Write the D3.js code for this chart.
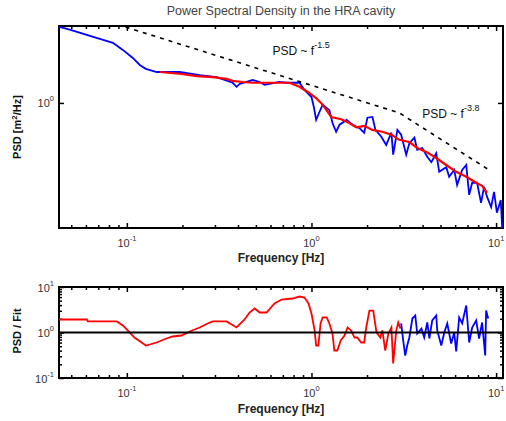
<!DOCTYPE html>
<html>
<head>
<meta charset="utf-8">
<script src="https://cdn.jsdelivr.net/npm/d3@7"></script>
<style>
  body { margin: 0; background: #fff; }
  svg { display: block; font-family: "Liberation Sans", Arial, sans-serif; }
</style>
</head>
<body>
<div id="chart"></div>
<script>
// measured spectrum, frequency in Hz, PSD in m^2/Hz
const rawFreq = [0.0429, 0.0474, 0.0537, 0.0631, 0.0714, 0.084, 0.0951, 0.1077, 0.1175, 0.1267, 0.1452, 0.1932,
  0.2481, 0.3063, 0.374, 0.393, 0.408, 0.48, 0.524, 0.557, 0.671, 0.733, 0.861, 0.916, 1.0, 1.03, 1.06, 1.10,
  1.15, 1.25, 1.30, 1.36, 1.42, 1.55, 1.67, 1.82, 1.93, 2.01, 2.14, 2.22, 2.39, 2.54, 2.71, 2.77, 2.92, 3.06,
  3.26, 3.39, 3.61, 3.74, 3.98, 4.24, 4.46, 4.74, 4.92, 5.37, 5.57, 5.93, 6.15, 6.55, 6.89, 7.15, 7.42, 7.89,
  8.29, 8.61, 8.94, 9.40, 9.75, 10.1, 10.6, 10.8];
const rawPsd = [3.86, 3.71, 3.52, 3.28, 3.11, 2.90, 2.56, 2.22, 1.96, 1.83, 1.73, 1.73,
  1.64, 1.58, 1.43, 1.33, 1.40, 1.50, 1.45, 1.38, 1.45, 1.43, 1.43, 1.26, 1.11, 0.93, 0.74, 0.84,
  0.97, 0.88, 0.70, 0.60, 0.68, 0.74, 0.68, 0.64, 0.59, 0.77, 0.78, 0.62, 0.55, 0.475, 0.59, 0.40, 0.62, 0.57,
  0.40, 0.49, 0.54, 0.435, 0.45, 0.385, 0.35, 0.41, 0.295, 0.32, 0.27, 0.305, 0.234, 0.305, 0.333, 0.196, 0.243, 0.243,
  0.170, 0.226, 0.189, 0.158, 0.207, 0.143, 0.179, 0.107];

// fitted spectrum
const fitFreq = [0.151, 0.198, 0.239, 0.292, 0.347, 0.374, 0.424, 0.48, 0.593, 0.76, 0.861, 0.951, 1.06, 1.15,
  1.28, 1.45, 1.60, 1.75, 1.93, 2.14, 2.42, 2.71, 2.99, 3.39, 3.74, 4.19, 4.74, 5.37, 6.08, 6.89, 7.80, 8.40, 8.94];
const fitPsd = [1.73, 1.67, 1.61, 1.58, 1.53, 1.48, 1.45, 1.43, 1.43, 1.43, 1.33, 1.22, 1.09, 0.97,
  0.78, 0.75, 0.70, 0.65, 0.666, 0.62, 0.60, 0.57, 0.52, 0.50, 0.45, 0.42, 0.377, 0.333, 0.295, 0.27, 0.243, 0.23, 0.203];

// reference power laws (dashed)
const slopeFreq = [0.0714, 2.99, 9.16];
const slopePsd = [4.43, 0.838, 0.305];
const slopeLabels = [
  { text: "PSD ~ f", exp: "-1.5", f: 0.615, p: 2.34 },
  { text: "PSD ~ f", exp: "-3.8", f: 3.98, p: 0.767 }
];

// PSD / fit ratio
const ratioFitFreq = [0.0429, 0.0608, 0.0615, 0.0883, 0.0951, 0.101, 0.110, 0.127, 0.145, 0.164, 0.177, 0.198,
  0.219, 0.248, 0.274, 0.292, 0.347, 0.370, 0.393, 0.434, 0.462, 0.492, 0.524, 0.571, 0.631, 0.689, 0.789, 0.861,
  0.916, 0.964, 1.0, 1.04, 1.06, 1.09, 1.12, 1.15, 1.21, 1.25, 1.30, 1.33, 1.38, 1.44, 1.51, 1.57, 1.64, 1.71,
  1.77, 1.86, 1.93, 1.98, 2.06, 2.16, 2.25, 2.36, 2.42, 2.51, 2.61, 2.71, 2.77, 2.88, 2.95, 3.03];
const ratioFit = [1.93, 1.93, 1.75, 1.75, 1.43, 1.11, 0.776, 0.518, 0.603, 0.738, 0.817, 0.859,
  1.05, 1.29, 1.58, 1.75, 1.75, 1.50, 1.29, 1.93, 2.75, 3.37, 2.75, 2.75, 4.34, 5.31, 5.59, 6.18,
  5.88, 4.34, 2.62, 1.11, 0.518, 0.518, 1.58, 2.14, 2.14, 1.58, 0.95, 0.402, 0.402, 0.667, 0.859, 1.29, 1.11, 0.776,
  0.776, 0.603, 0.603, 1.29, 3.04, 3.04, 1.0, 0.776, 1.11, 0.402, 0.95, 1.29, 0.208, 1.11, 1.66, 1.22];
const ratioRawFreq = [3.06, 3.14, 3.22, 3.30, 3.39, 3.52, 3.65, 3.74, 3.94, 4.08, 4.24, 4.35, 4.51, 4.74, 4.80,
  5.05, 5.24, 5.44, 5.71, 5.93, 6.08, 6.31, 6.55, 6.89, 7.15, 7.42, 7.80, 8.09, 8.40, 8.73, 8.83, 9.06];
const ratioRaw = [1.58, 0.667, 0.312, 0.518, 0.776, 2.03, 2.36, 0.95, 1.22, 0.776, 1.66, 0.738, 1.84, 2.36, 1.11,
  0.518, 1.0, 1.58, 0.573, 1.0, 0.382, 2.14, 1.58, 3.92, 0.603, 1.29, 1.84, 0.738, 1.66, 0.312, 3.04, 2.03];

const freqTicks = [0.1, 1, 10];
const psdTicks = [1];
const ratioTicks = [0.1, 1, 10];

const W = 506, H = 421;
const svg = d3.select("#chart").append("svg").attr("width", W).attr("height", H);

const x = d3.scaleLog().domain([0.0429, 10.9]).range([59, 503]);
const yTop = d3.scaleLog().domain([0.109, 3.91]).range([228, 26]);
const yBot = d3.scaleLog().domain([0.1, 10]).range([378, 287]);

const pow = v => Math.round(Math.log10(v));

function zip(fs, vs) { return fs.map((f, i) => [f, vs[i]]); }

function tickLabel(g, px, py, v, anchor) {
  const t = g.append("text").attr("x", px).attr("y", py)
    .attr("text-anchor", anchor).attr("fill", "#333").attr("font-size", 11);
  t.append("tspan").text("10");
  t.append("tspan").attr("dy", -6).attr("font-size", 7.5).text(pow(v));
}

function panel(y, yMajor, yMinor, clipId) {
  const g = svg.append("g");
  const [x0, x1] = x.range();
  const [yb, yt] = y.range();

  g.append("clipPath").attr("id", clipId).append("rect")
    .attr("x", x0).attr("y", yt).attr("width", x1 - x0).attr("height", yb - yt);

  const xMinor = x.ticks().filter(v => !freqTicks.includes(v));
  const sides = [
    [d3.axisBottom(x), yb, freqTicks, xMinor, "x"],
    [d3.axisTop(x), yt, freqTicks, xMinor, "x"],
    [d3.axisLeft(y), x0, yMajor, yMinor, "y"],
    [d3.axisRight(y), x1, yMajor, yMinor, "y"]
  ];
  sides.forEach(([axis, pos, major, minor, kind]) => {
    [[major, 5], [minor, 3]].forEach(([vals, len]) => {
      if (!vals.length) return;
      const a = g.append("g")
        .attr("transform", kind === "x" ? `translate(0,${pos})` : `translate(${pos},0)`)
        .call(axis.tickValues(vals).tickSizeInner(-len).tickSizeOuter(0).tickFormat(""));
      a.select(".domain").remove();
      a.selectAll("line").attr("stroke", "#000").attr("stroke-width", 1.5);
    });
  });

  g.append("rect").attr("x", x0).attr("y", yt).attr("width", x1 - x0).attr("height", yb - yt)
    .attr("fill", "none").attr("stroke", "#000").attr("stroke-width", 2);

  return g;
}

const line = y => d3.line().x(d => x(d[0])).y(d => y(d[1]));

// upper panel: spectra
const upper = panel(yTop, psdTicks, [], "clipTop");
const upperData = upper.append("g").attr("clip-path", "url(#clipTop)");
upperData.append("path").datum(zip(rawFreq, rawPsd)).attr("d", line(yTop))
  .attr("fill", "none").attr("stroke", "#0000ff").attr("stroke-width", 1.8);
upperData.append("path").datum(zip(fitFreq, fitPsd)).attr("d", line(yTop))
  .attr("fill", "none").attr("stroke", "#ff0000").attr("stroke-width", 2.2);
upperData.append("path").datum(zip(slopeFreq, slopePsd)).attr("d", line(yTop))
  .attr("fill", "none").attr("stroke", "#000").attr("stroke-width", 1.6).attr("stroke-dasharray", "4,5");

slopeLabels.forEach(l => {
  const t = upper.append("text").attr("x", x(l.f)).attr("y", yTop(l.p))
    .attr("font-size", 12).attr("fill", "#111");
  t.append("tspan").text(l.text);
  t.append("tspan").attr("dy", -7).attr("font-size", 9).text(l.exp);
});

freqTicks.forEach(v => tickLabel(upper, x(v), 247, v, "middle"));
psdTicks.forEach(v => tickLabel(upper, 54, yTop(v) + 4, v, "end"));

// lower panel: ratio to fit
const lower = panel(yBot, ratioTicks, yBot.ticks().filter(v => !ratioTicks.includes(v)), "clipBot");
const lowerData = lower.append("g").attr("clip-path", "url(#clipBot)");
lowerData.append("path").datum(zip(ratioFitFreq, ratioFit)).attr("d", line(yBot))
  .attr("fill", "none").attr("stroke", "#ff0000").attr("stroke-width", 1.8);
lowerData.append("path").datum(zip(ratioRawFreq, ratioRaw)).attr("d", line(yBot))
  .attr("fill", "none").attr("stroke", "#0000ff").attr("stroke-width", 1.8);
lower.append("line").attr("x1", x.range()[0]).attr("x2", x.range()[1])
  .attr("y1", yBot(1)).attr("y2", yBot(1)).attr("stroke", "#000").attr("stroke-width", 2);

freqTicks.forEach(v => tickLabel(lower, x(v), 397, v, "middle"));
ratioTicks.forEach(v => tickLabel(lower, 54, yBot(v) + 4.5, v, "end"));

// titles
svg.append("text").attr("x", 281).attr("y", 15).attr("text-anchor", "middle")
  .attr("font-size", 12.5).attr("fill", "#444").text("Power Spectral Density in the HRA cavity");
[262, 413].forEach(yy => svg.append("text").attr("x", 281).attr("y", yy).attr("text-anchor", "middle")
  .attr("font-size", 12).attr("font-weight", "bold").attr("fill", "#222").text("Frequency [Hz]"));

const yl = svg.append("text").attr("transform", "translate(21,127) rotate(-90)")
  .attr("text-anchor", "middle").attr("font-size", 11).attr("font-weight", "bold").attr("fill", "#111");
yl.append("tspan").text("PSD [m");
yl.append("tspan").attr("dy", -4).attr("font-size", 8).text("2");
yl.append("tspan").attr("dy", 4).text("/Hz]");

svg.append("text").attr("transform", "translate(21,331) rotate(-90)")
  .attr("text-anchor", "middle").attr("font-size", 11).attr("font-weight", "bold").attr("fill", "#111")
  .text("PSD / Fit");
</script>
</body>
</html>
